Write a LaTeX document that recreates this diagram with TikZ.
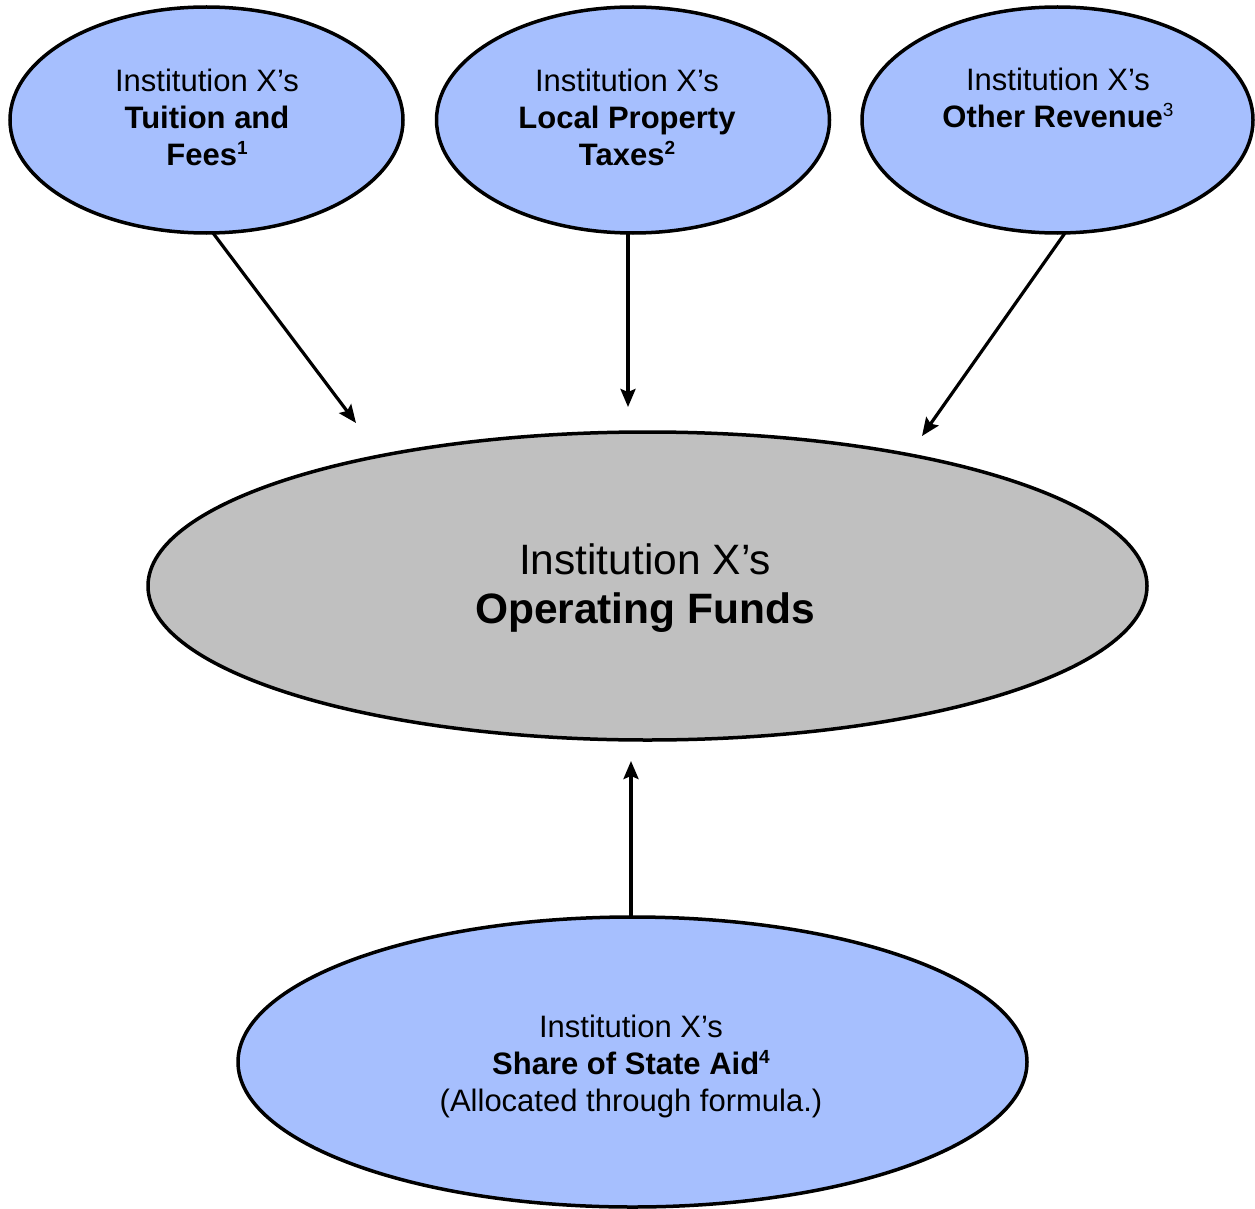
\documentclass[tikz,border=0pt]{standalone}
\usepackage{fontspec}
\setmainfont{Liberation Sans}
\usetikzlibrary{shapes.geometric,arrows.meta}
\definecolor{lblue}{RGB}{166,191,254}
\definecolor{lgray}{RGB}{192,192,192}
\newcommand{\supx}[1]{\raisebox{11pt}{\fontsize{19}{19}\selectfont #1}}
\begin{document}
\begin{tikzpicture}[x=1pt,y=-1pt,
  oval/.style={ellipse,draw=black,line width=3.5pt,inner sep=0pt},
  src/.style={oval,fill=lblue,minimum width=393pt,minimum height=226pt},
  txt/.style={align=center,inner sep=0pt,font=\fontsize{31}{37}\selectfont},
  bigtxt/.style={align=center,inner sep=0pt,font=\fontsize{42.5}{49}\selectfont},
  conn/.style={line width=3.2pt,-{Stealth[length=18pt,width=15pt,inset=3pt]}}]
\useasboundingbox (0,0) rectangle (1255,1209);
% ellipses
\node[src] (tf) at (206.5,120) {};
\node[src] (lp) at (633,120) {};
\node[src,minimum width=391pt] (or) at (1057.5,120) {};
\node[oval,fill=lgray,minimum width=999pt,minimum height=308pt] (of) at (647.5,586) {};
\node[oval,fill=lblue,minimum width=789pt,minimum height=290pt] (sa) at (632.5,1062) {};
% texts
\node[txt] (tft) at (207,117) {Institution X’s\\\textbf{Tuition and}\\\textbf{Fees\supx{1}}};
\node[txt] (lpt) at (627,117) {Institution X’s\\\textbf{Local Property}\\\textbf{Taxes\supx{2}}};
\node[txt] (ort) at (1058,98) {Institution X’s\\\textbf{Other Revenue}\supx{3}};
\node[bigtxt] (oft) at (645,588) {Institution X’s\\\textbf{Operating Funds}};
\node[txt] (sat) at (631,1066) {Institution X’s\\\textbf{Share of State Aid\supx{4}}\\(Allocated through formula.)};
% arrow ends
\coordinate (e1) at (356,423);
\coordinate (e2) at (628,407);
\coordinate (e3) at (922,436);
\coordinate (e4) at (631,761);
\coordinate (s1) at (213,233);
\coordinate (s2) at (628,233);
\coordinate (s3) at (1065,233);
\coordinate (s4) at (631,917);
\draw[conn] (s1) -- (e1);
\draw[conn] (s2) -- (e2);
\draw[conn] (s3) -- (e3);
\draw[conn] (s4) -- (e4);
\end{tikzpicture}
\end{document}
